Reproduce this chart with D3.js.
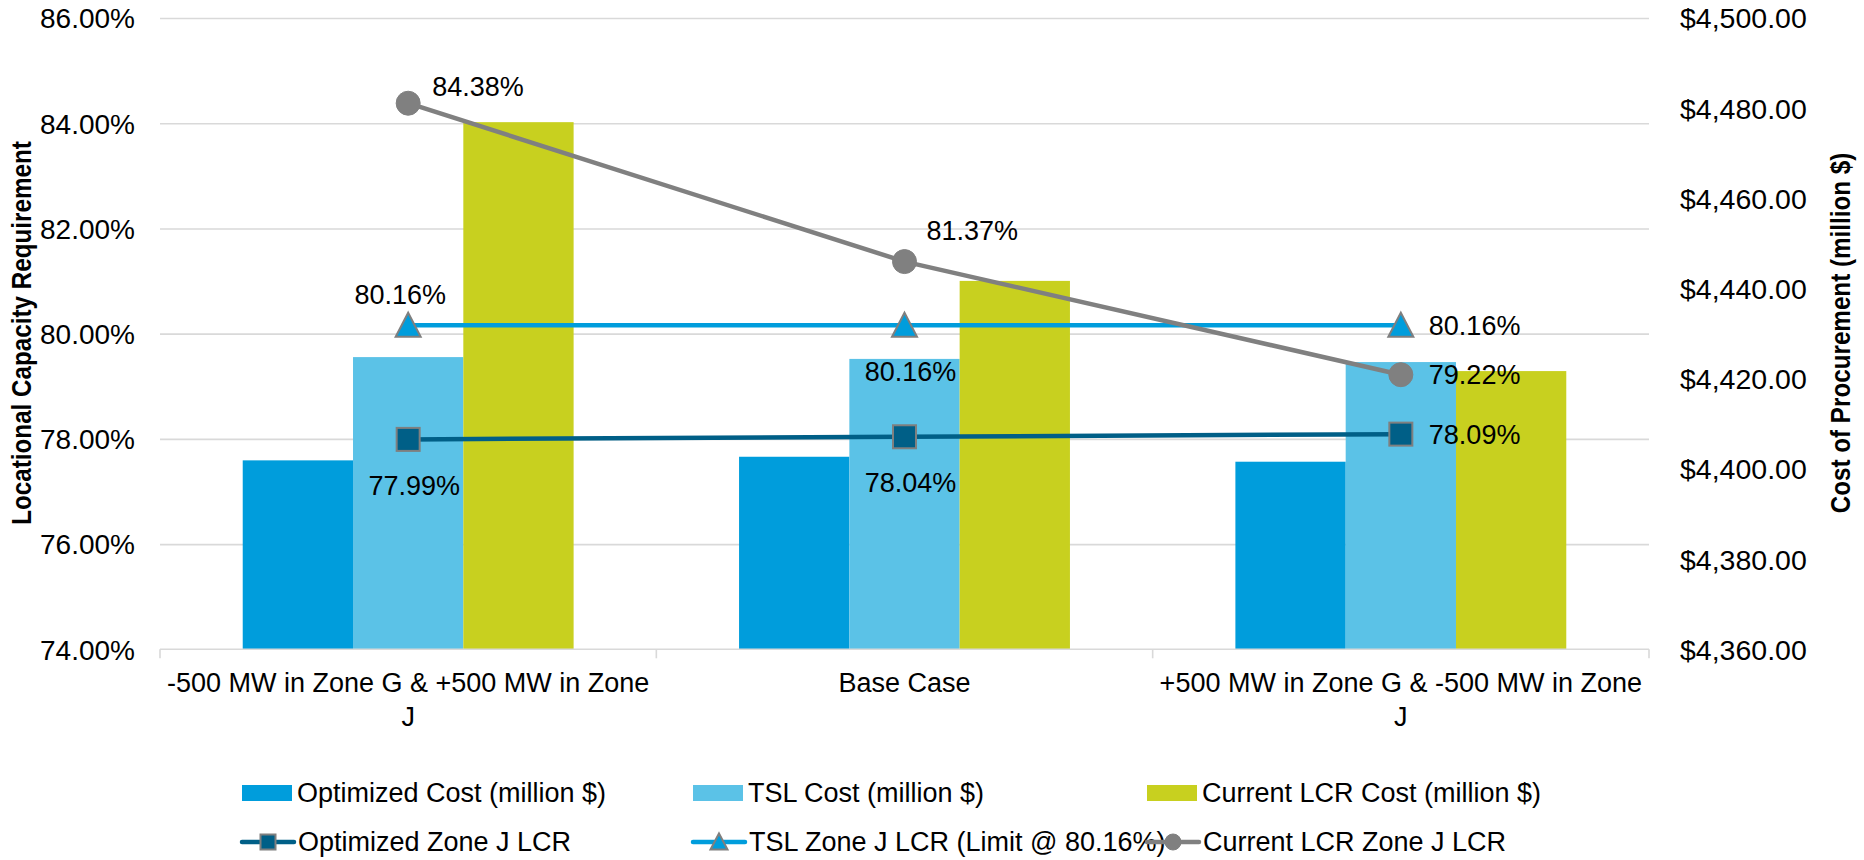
<!DOCTYPE html>
<html>
<head>
<meta charset="utf-8">
<script src="https://cdn.jsdelivr.net/npm/d3@7"></script>
<style>
  html, body { margin: 0; padding: 0; background: #ffffff; }
  svg { display: block; }
  text { font-family: "Liberation Sans", Arial, sans-serif; fill: #000; }
</style>
</head>
<body>
<svg id="chart" width="1864" height="860"></svg>
<script>
// ---------------- data ----------------
const categories = [
  "-500 MW in Zone G & +500 MW in Zone J",
  "Base Case",
  "+500 MW in Zone G & -500 MW in Zone J"
];
const optimizedCost = [4401.9, 4402.7, 4401.6];
const tslCost       = [4424.8, 4424.4, 4423.7];
const currentCost   = [4476.9, 4441.7, 4421.7];

const optimizedLCR = [77.99, 78.04, 78.09];
const tslLCR       = [80.16, 80.16, 80.16];
const currentLCR   = [84.38, 81.37, 79.22];

const leftTicks  = [74, 76, 78, 80, 82, 84, 86];
const rightTicks = [4360, 4380, 4400, 4420, 4440, 4460, 4480, 4500];

const leftTitle  = "Locational Capacity Requirement";
const rightTitle = "Cost of Procurement (million $)";

const barSeries = [
  { name: "Optimized Cost (million $)",   values: optimizedCost, color: "#009DDC" },
  { name: "TSL Cost (million $)",         values: tslCost,       color: "#5BC2E7" },
  { name: "Current LCR Cost (million $)", values: currentCost,   color: "#C8D01F" }
];
const lineSeries = [
  { name: "Optimized Zone J LCR",             values: optimizedLCR, color: "#005F87", marker: "square",
    labels: ["below", "below", "right"] },
  { name: "TSL Zone J LCR (Limit @ 80.16%)",  values: tslLCR,       color: "#009DDC", marker: "triangle",
    labels: ["above", "below", "right"] },
  { name: "Current LCR Zone J LCR",           values: currentLCR,   color: "#808080", marker: "circle",
    labels: ["aboveRight", "upperRight", "right"] }
];

// label placement styles (relative to marker centre)
const placements = {
  below:      { dx: 6,  dy: 46,  anchor: "middle" },
  above:      { dx: -8, dy: -31, anchor: "middle" },
  right:      { dx: 28, dy: 0,   anchor: "start" },
  aboveRight: { dx: 24, dy: -17, anchor: "start" },
  upperRight: { dx: 22, dy: -31, anchor: "start" }
};

// ---------------- layout ----------------
const svg = d3.select("#chart");
const plot = { left: 160, right: 1649, top: 18, bottom: 649.3 };
const gridColor = "#D9D9D9";
const fontSize = 27;

const x = d3.scaleBand().domain(categories).range([plot.left, plot.right]).padding(0);
const xSub = d3.scaleBand().domain(barSeries.map(d => d.name))
  .range([0, x.bandwidth()]).paddingInner(0).paddingOuter(0.75);
const yL = d3.scaleLinear().domain([74, 86]).range([plot.bottom, plot.top]);
const yR = d3.scaleLinear().domain([4360, 4500]).range([plot.bottom, plot.top]);

// gridlines (left axis)
const grid = svg.append("g")
  .attr("transform", `translate(${plot.left},0)`)
  .call(d3.axisLeft(yL).tickValues(leftTicks).tickSize(-(plot.right - plot.left)).tickFormat(""));
grid.select(".domain").remove();
grid.selectAll(".tick line").attr("stroke", gridColor).attr("stroke-width", 1.6);
grid.selectAll(".tick").filter(d => d === 74).remove();

// left axis labels
const axL = svg.append("g")
  .attr("transform", `translate(${plot.left - 25},0)`)
  .call(d3.axisLeft(yL).tickValues(leftTicks).tickSize(0).tickPadding(0)
    .tickFormat(d => d3.format(".2f")(d) + "%"));
axL.select(".domain").remove();
axL.selectAll("text").attr("font-size", 28).attr("font-family", "Liberation Sans, Arial, sans-serif")
  .attr("fill", "#000").attr("dy", "0.35em");

// right axis labels
const axR = svg.append("g")
  .attr("transform", `translate(${plot.right + 31},0)`)
  .call(d3.axisRight(yR).tickValues(rightTicks).tickSize(0).tickPadding(0)
    .tickFormat(d => "$" + d3.format(",.2f")(d)));
axR.select(".domain").remove();
axR.selectAll("text").attr("font-size", 28.5).attr("font-family", "Liberation Sans, Arial, sans-serif")
  .attr("fill", "#000").attr("dy", "0.35em");

// bars
const barG = svg.append("g");
barSeries.forEach(s => {
  barG.selectAll(null).data(s.values).enter().append("rect")
    .attr("x", (d, i) => x(categories[i]) + xSub(s.name))
    .attr("width", xSub.bandwidth())
    .attr("y", d => yR(d))
    .attr("height", d => yR(4360) - yR(d))
    .attr("fill", s.color);
});

// bottom axis line + boundary ticks
svg.append("line")
  .attr("x1", plot.left).attr("x2", plot.right)
  .attr("y1", plot.bottom).attr("y2", plot.bottom)
  .attr("stroke", gridColor).attr("stroke-width", 1.6);
const bounds = categories.map(c => x(c)).concat([x(categories[categories.length - 1]) + x.bandwidth()]);
svg.selectAll(null).data(bounds).enter().append("line")
  .attr("x1", d => d).attr("x2", d => d)
  .attr("y1", plot.bottom).attr("y2", plot.bottom + 9)
  .attr("stroke", gridColor).attr("stroke-width", 1.6);

// category labels
const axB = svg.append("g")
  .attr("transform", `translate(0,${plot.bottom})`)
  .call(d3.axisBottom(x).tickSize(0).tickPadding(0));
axB.select(".domain").remove();
axB.selectAll("text").attr("font-size", fontSize).attr("font-family", "Liberation Sans, Arial, sans-serif")
  .attr("fill", "#000").attr("dy", 0).attr("y", 0)
  .each(function (d) { wrap(d3.select(this), d, 490); });

function wrap(text, str, width) {
  const words = str.split(" ");
  text.text(null);
  let line = [];
  let lineNo = 0;
  let tspan = text.append("tspan").attr("x", 0).attr("y", 43);
  words.forEach(w => {
    line.push(w);
    tspan.text(line.join(" "));
    if (tspan.node().getComputedTextLength() > width && line.length > 1) {
      line.pop();
      tspan.text(line.join(" "));
      line = [w];
      lineNo++;
      tspan = text.append("tspan").attr("x", 0).attr("y", 43 + lineNo * 34).text(w);
    }
  });
}

// lines
const cx = i => x(categories[i]) + x.bandwidth() / 2;
const lineGen = d3.line().x((d, i) => cx(i)).y(d => yL(d));
const lineG = svg.append("g");
lineSeries.forEach(s => {
  lineG.append("path").datum(s.values)
    .attr("d", lineGen).attr("fill", "none")
    .attr("stroke", s.color).attr("stroke-width", 4.5).attr("stroke-linejoin", "round");
});

function drawMarker(g, type, px, py, color, size) {
  const h = size / 2;
  if (type === "square") {
    g.append("rect").attr("x", px - h).attr("y", py - h).attr("width", size).attr("height", size)
      .attr("fill", color).attr("stroke", "#7F7F7F").attr("stroke-width", 2);
  } else if (type === "triangle") {
    g.append("path")
      .attr("d", `M${px},${py - h - 1}L${px + h + 1},${py + h}L${px - h - 1},${py + h}Z`)
      .attr("fill", color).attr("stroke", "#7F7F7F").attr("stroke-width", 2).attr("stroke-linejoin", "miter");
  } else {
    g.append("circle").attr("cx", px).attr("cy", py).attr("r", h + 0.5)
      .attr("fill", color).attr("stroke", "#808080").attr("stroke-width", 1);
  }
}

lineSeries.forEach(s => {
  s.values.forEach((v, i) => drawMarker(lineG, s.marker, cx(i), yL(v), s.color, 23));
});

// data labels
const labelG = svg.append("g");
lineSeries.forEach(s => {
  s.values.forEach((v, i) => {
    const p = placements[s.labels[i]];
    labelG.append("text")
      .attr("x", cx(i) + p.dx)
      .attr("y", yL(v) + p.dy)
      .attr("dy", "0.35em")
      .attr("text-anchor", p.anchor)
      .attr("font-size", fontSize)
      .text(d3.format(".2f")(v) + "%");
  });
});

// axis titles (condensed, semi-bold look)
svg.append("text")
  .attr("transform", `translate(31,333) rotate(-90) scale(0.85,1)`)
  .attr("text-anchor", "middle")
  .attr("font-weight", "bold")
  .attr("font-size", 28.5)
  .text(leftTitle);
svg.append("text")
  .attr("transform", `translate(1850,333) rotate(-90) scale(0.85,1)`)
  .attr("text-anchor", "middle")
  .attr("font-weight", "bold")
  .attr("font-size", 28.5)
  .text(rightTitle);

// legend
const legendCols = [242, 693, 1147];
const legendRows = [793, 842];
const legG = svg.append("g");
barSeries.forEach((s, i) => {
  const gx = legendCols[i], gy = legendRows[0];
  legG.append("rect").attr("x", gx).attr("y", gy - 8).attr("width", 50).attr("height", 16).attr("fill", s.color);
  legG.append("text").attr("x", gx + 55).attr("y", gy).attr("dy", "0.35em")
    .attr("font-size", fontSize).text(s.name);
});
lineSeries.forEach((s, i) => {
  const gx = legendCols[i], gy = legendRows[1];
  legG.append("line").attr("x1", gx).attr("x2", gx + 52).attr("y1", gy).attr("y2", gy)
    .attr("stroke", s.color).attr("stroke-width", 4.5).attr("stroke-linecap", "round");
  drawMarker(legG, s.marker, gx + 26, gy, s.color, 15);
  legG.append("text").attr("x", gx + 56).attr("y", gy).attr("dy", "0.35em")
    .attr("font-size", fontSize).text(s.name);
});
</script>
</body>
</html>
